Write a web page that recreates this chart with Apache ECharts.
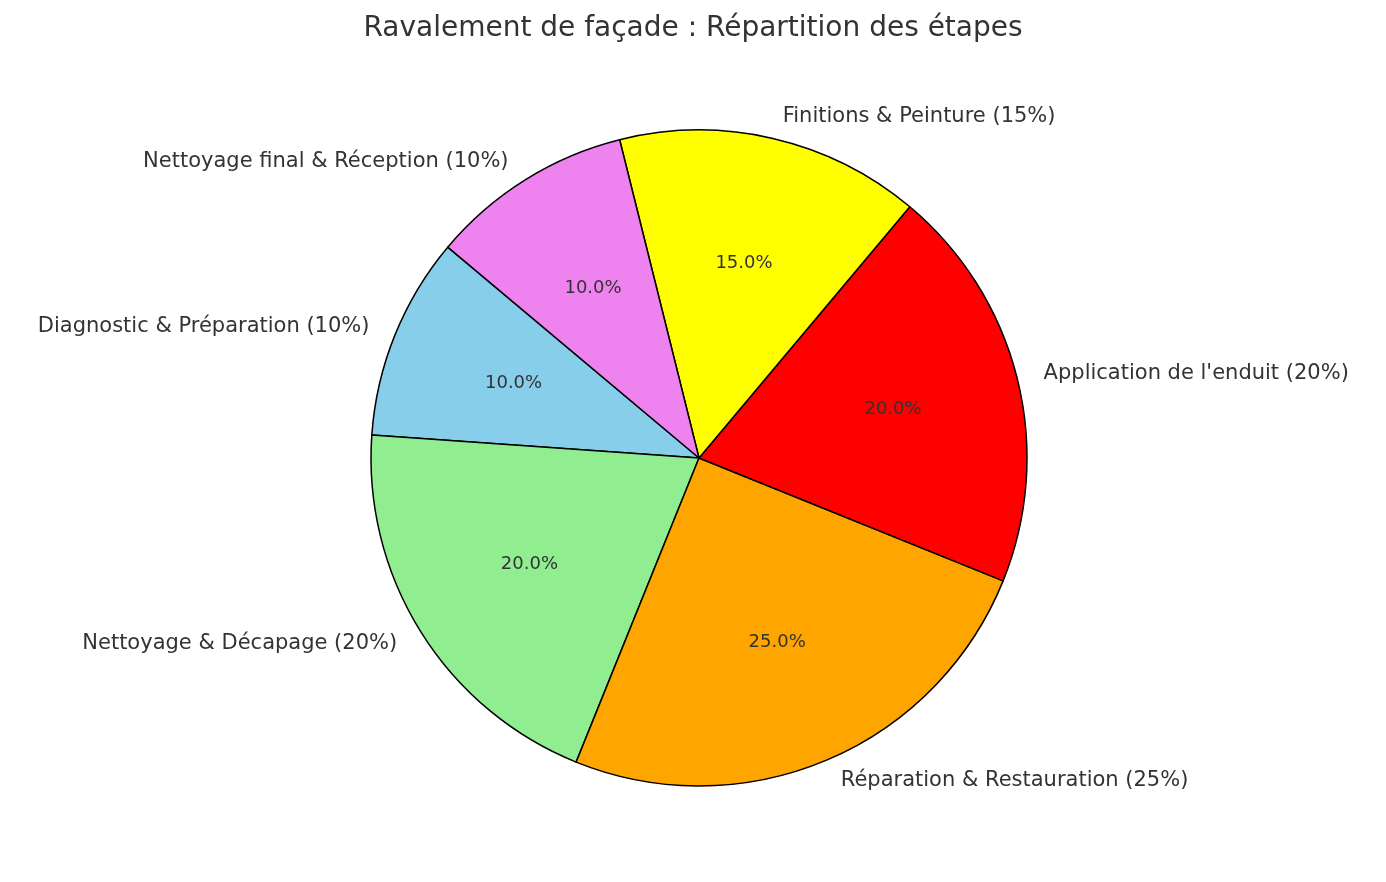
<!DOCTYPE html>
<html>
<head>
<meta charset="utf-8">
<script src="https://cdn.jsdelivr.net/npm/echarts@6/dist/echarts.min.js"></script>
<style>html,body{margin:0;background:#fff}#main{width:1386px;height:882px}</style>
</head>
<body>
<div id="main"></div>
<script>
const steps = ['Diagnostic & Préparation', 'Nettoyage & Décapage', 'Réparation & Restauration',
  "Application de l'enduit", 'Finitions & Peinture', 'Nettoyage final & Réception'];
const shares = [10, 20, 25, 20, 15, 10];
const colors = ['#87CEEB', '#90EE90', '#FFA500', '#FF0000', '#FFFF00', '#EE82EE'];

const chart = echarts.init(document.getElementById('main'));
const font = 'DejaVu Sans';
const data = steps.map((s, i) => ({ name: s, value: shares[i], itemStyle: { color: colors[i] } }));

chart.setOption({
  animation: false,
  title: {
    text: 'Ravalement de façade : Répartition des étapes',
    left: 'center', top: 10,
    textStyle: { fontFamily: font, fontSize: 28, fontWeight: 'normal', color: '#333' }
  },
  series: [
    {
      type: 'pie',
      center: [699, 458],
      radius: [0, 328],
      startAngle: 140,
      clockwise: false,
      avoidLabelOverlap: false,
      itemStyle: { borderColor: '#000', borderWidth: 1.5 },
      label: {
        position: 'outside',
        formatter: p => `${p.name} (${p.value}%)`,
        fontFamily: font, fontSize: 21, color: '#333'
      },
      labelLine: { show: false, length: 22, length2: 0 },
      data: data
    },
    {
      type: 'pie',
      center: [699, 458],
      radius: [0, 394],
      startAngle: 140,
      clockwise: false,
      silent: true,
      itemStyle: { color: 'transparent', borderWidth: 0 },
      label: {
        position: 'inside',
        formatter: p => p.value.toFixed(1) + '%',
        fontFamily: font, fontSize: 18, color: '#333'
      },
      labelLine: { show: false },
      data: steps.map((s, i) => ({ name: s, value: shares[i] }))
    }
  ]
});
</script>
</body>
</html>
